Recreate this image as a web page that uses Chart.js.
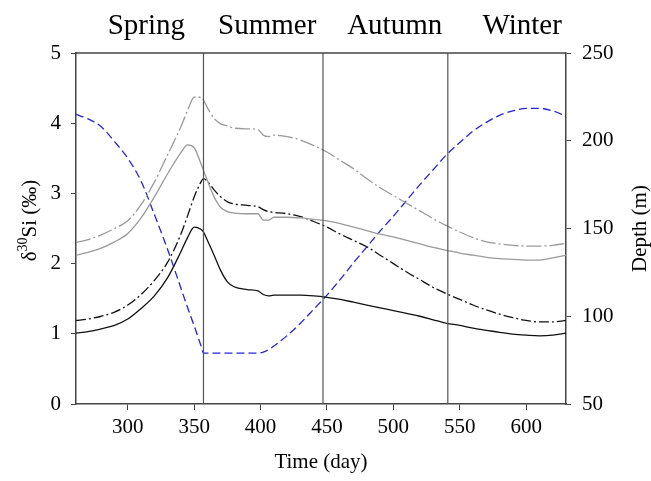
<!DOCTYPE html>
<html>
<head>
<meta charset="utf-8">
<script src="https://cdn.jsdelivr.net/npm/chart.js@4.4.1/dist/chart.umd.min.js"></script>
<style>
  body { margin: 0; background: #fff; }
  .chart_box { width: 651px; height: 481px; }
</style>
</head>
<body>
<div class="chart_box"><canvas id="si_chart" width="651" height="481"></canvas></div>
<script>
// time axis (day) shared by every series
const days = [261, 270, 280, 290, 300, 310, 320, 330, 340, 345, 350, 355, 357, 360, 365,
  370, 375, 380, 390, 398, 402, 406, 410, 420, 430, 440, 450, 460, 470, 480,
  490, 500, 510, 520, 530, 540, 550, 560, 570, 580, 590, 600, 610, 620, 630];

// d30Si (permil), left axis
const blackSolid = [1.01, 1.03, 1.07, 1.12, 1.21, 1.36, 1.54, 1.80, 2.17, 2.37, 2.52, 2.49, 2.45, 2.33, 2.12,
  1.90, 1.74, 1.67, 1.63, 1.61, 1.56, 1.54, 1.55, 1.55, 1.55, 1.54, 1.52, 1.49, 1.45, 1.41,
  1.37, 1.33, 1.29, 1.25, 1.20, 1.15, 1.12, 1.08, 1.05, 1.02, 0.995, 0.98, 0.97, 0.98, 1.01];
const blackDashDot = [1.19, 1.21, 1.25, 1.31, 1.41, 1.56, 1.76, 2.02, 2.42, 2.68, 2.95, 3.16, 3.21, 3.17, 3.05,
  2.95, 2.88, 2.85, 2.83, 2.81, 2.77, 2.74, 2.73, 2.71, 2.67, 2.60, 2.52, 2.42, 2.33, 2.24,
  2.12, 2.00, 1.88, 1.77, 1.66, 1.57, 1.49, 1.41, 1.34, 1.28, 1.23, 1.19, 1.17, 1.17, 1.19];
const graySolid = [2.12, 2.16, 2.22, 2.31, 2.43, 2.65, 2.95, 3.28, 3.58, 3.69, 3.65, 3.43, 3.33, 3.18, 2.95,
  2.80, 2.74, 2.72, 2.71, 2.71, 2.62, 2.62, 2.66, 2.66, 2.65, 2.63, 2.61, 2.57, 2.52, 2.47,
  2.42, 2.38, 2.33, 2.28, 2.23, 2.19, 2.15, 2.12, 2.09, 2.07, 2.06, 2.05, 2.05, 2.08, 2.12];
const grayDashDot = [2.30, 2.34, 2.41, 2.50, 2.61, 2.84, 3.16, 3.55, 3.95, 4.18, 4.37, 4.37, 4.33, 4.22, 4.07,
  3.99, 3.96, 3.93, 3.92, 3.91, 3.83, 3.81, 3.83, 3.81, 3.76, 3.68, 3.59, 3.47, 3.35, 3.21,
  3.08, 2.97, 2.86, 2.75, 2.64, 2.54, 2.45, 2.37, 2.31, 2.28, 2.26, 2.25, 2.25, 2.26, 2.29];

// depth (m), right axis
const depth = [215, 212.5, 208, 199.5, 190, 177, 158, 138, 116, 105, 94.5, 83.5, 79, 79, 79,
  79, 79, 79, 79, 79, 79.5, 81, 83, 89, 96, 104, 112, 121, 130.5, 139.5,
  148.5, 157, 166, 175, 183.5, 192, 199, 205.5, 210.5, 214.5, 217, 218.5, 218.5, 217, 214];

const seasons = ["Spring", "Summer", "Autumn", "Winter"];
const seasonEdges = [357, 447, 541];

const xTicks = [300, 350, 400, 450, 500, 550, 600];
const leftTicks = [0, 1, 2, 3, 4, 5];
const rightTicks = [50, 100, 150, 200, 250];

const serif = "'Liberation Serif', 'Times New Roman', serif";
const axisColor = "#444";

const pts = (vals) => days.map((d, i) => ({ x: d, y: vals[i] }));
const toTicks = (arr) => (scale) => { scale.ticks = arr.map((v) => ({ value: v })); };

const line = (vals, color, dash, axis) => ({
  data: pts(vals),
  borderColor: color,
  borderWidth: 1.3,
  borderDash: dash,
  pointRadius: 0,
  fill: false,
  cubicInterpolationMode: "monotone",
  yAxisID: axis,
});

const edgeLines = seasonEdges.map((e) => ({
  data: [{ x: e, y: leftTicks[0] }, { x: e, y: leftTicks[leftTicks.length - 1] }],
  borderColor: "#555",
  borderWidth: 1.2,
  pointRadius: 0,
  yAxisID: "y",
}));

const decorPlugin = {
  id: "decor",
  afterDraw(chart) {
    const { ctx, chartArea, scales } = chart;
    ctx.save();
    // top frame
    ctx.strokeStyle = axisColor;
    ctx.lineWidth = 1.5;
    ctx.beginPath();
    ctx.moveTo(chartArea.left, chartArea.top);
    ctx.lineTo(chartArea.right, chartArea.top);
    ctx.stroke();

    // season names above the plot
    const labelAt = [314, 405, 501, 597];
    ctx.fillStyle = "#000";
    ctx.font = "29px " + serif;
    ctx.textAlign = "center";
    ctx.textBaseline = "alphabetic";
    seasons.forEach((name, i) => {
      ctx.fillText(name, scales.x.getPixelForValue(labelAt[i]), 34);
    });

    // left title: d30Si (permil) with superscript
    const midY = (chartArea.top + chartArea.bottom) / 2;
    const big = "21px " + serif;
    const small = "14px " + serif;
    ctx.font = big;
    const w1 = ctx.measureText("\u03B4").width;
    const w3 = ctx.measureText("Si (\u2030)").width;
    ctx.font = small;
    const w2 = ctx.measureText("30").width;
    const total = w1 + w2 + w3;
    ctx.save();
    ctx.translate(30, midY - 8);
    ctx.rotate(-Math.PI / 2);
    ctx.textAlign = "left";
    ctx.textBaseline = "middle";
    let x = -total / 2;
    ctx.font = big;
    ctx.fillText("\u03B4", x, 0);
    x += w1;
    ctx.font = small;
    ctx.fillText("30", x, -7);
    x += w2;
    ctx.font = big;
    ctx.fillText("Si (\u2030)", x, 0);
    ctx.restore();

    // right title, reading upwards
    ctx.save();
    ctx.translate(640, midY);
    ctx.rotate(-Math.PI / 2);
    ctx.textAlign = "center";
    ctx.textBaseline = "middle";
    ctx.font = big;
    ctx.fillText("Depth (m)", 0, 0);
    ctx.restore();
    ctx.restore();
  },
};

const ctx = document.getElementById("si_chart").getContext("2d");

let configuration = {
  type: "line",
  data: {
    datasets: [
      ...edgeLines,
      line(grayDashDot, "#9a9a9a", [15, 3, 2, 3], "y"),
      line(graySolid, "#9a9a9a", [], "y"),
      line(blackDashDot, "#111", [10, 3, 2, 3], "y"),
      line(blackSolid, "#111", [], "y"),
      line(depth, "rgb(35,35,230)", [8, 4], "y1"),
    ],
  },
  options: {
    responsive: false,
    animation: false,
    devicePixelRatio: 1,
    layout: { padding: { top: 53, left: 0, right: 0, bottom: 0 } },
    plugins: { legend: { display: false }, tooltip: { enabled: false } },
    scales: {
      x: {
        type: "linear",
        min: days[0],
        max: days[days.length - 1],
        afterBuildTicks: toTicks(xTicks),
        afterFit: (s) => { s.height = 77; },
        grid: { drawOnChartArea: false, tickLength: 6, color: axisColor },
        border: { color: axisColor, width: 1.5 },
        ticks: { color: "#000", padding: 5, font: { family: serif, size: 21 } },
        title: {
          display: true,
          text: "Time (day)",
          color: "#000",
          font: { family: serif, size: 21 },
          padding: { top: 0, bottom: 6 },
        },
      },
      y: {
        position: "left",
        min: 0,
        max: 5,
        afterBuildTicks: toTicks(leftTicks),
        afterFit: (s) => { s.width = 76; },
        grid: { drawOnChartArea: false, tickLength: 5, color: axisColor },
        border: { color: axisColor, width: 1.5 },
        ticks: { color: "#000", padding: 10, font: { family: serif, size: 21 } },
      },
      y1: {
        position: "right",
        min: 50,
        max: 250,
        afterBuildTicks: toTicks(rightTicks),
        afterFit: (s) => { s.width = 85; },
        grid: { drawOnChartArea: false, tickLength: 5, color: axisColor },
        border: { color: axisColor, width: 1.5 },
        ticks: { color: "#000", padding: 11, font: { family: serif, size: 21 } },
      },
    },
  },
  plugins: [decorPlugin],
};

new Chart(ctx, configuration);
</script>
</body>
</html>
